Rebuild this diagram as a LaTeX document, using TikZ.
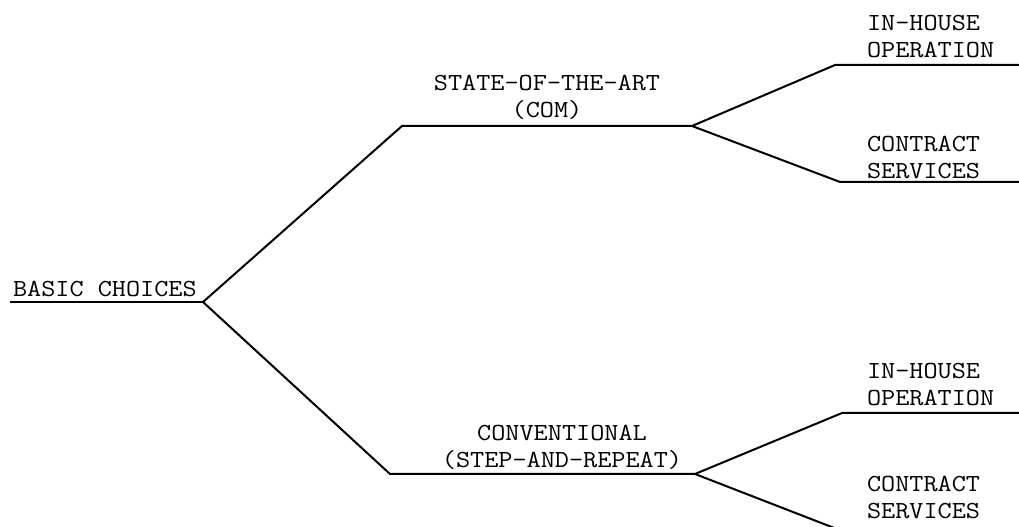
\documentclass[tikz,border=0pt]{standalone}
\usepackage{fontspec}
\setmonofont[FakeStretch=1.12]{Latin Modern Mono}
\begin{document}
\begin{tikzpicture}[line join=bevel,line width=2bp,
  choice/.style={draw=none,inner sep=0pt,font={\ttfamily\fontsize{24.5bp}{27bp}\selectfont},align=center},
  leaf/.style={choice,align=left,anchor=west}]
\useasboundingbox (0bp,0bp) rectangle (1019bp,527bp);
\clip (0bp,0bp) rectangle (1019bp,527bp);
%%
\coordinate (start) at (10bp,225bp);
\coordinate (root) at (203bp,225bp);
\coordinate (art_l) at (402bp,401bp);
\coordinate (art_r) at (692bp,401bp);
\coordinate (conv_l) at (390bp,53bp);
\coordinate (conv_r) at (695bp,53bp);
\coordinate (inhouse_a_l) at (835bp,462bp);
\coordinate (inhouse_a_r) at (1025bp,462bp);
\coordinate (contract_a_l) at (840bp,345bp);
\coordinate (contract_a_r) at (1025bp,345bp);
\coordinate (inhouse_b_l) at (842bp,114bp);
\coordinate (inhouse_b_r) at (1025bp,114bp);
\coordinate (contract_b_l) at (842bp,-4bp);
\coordinate (contract_b_r) at (1025bp,-4bp);
%
\node (basic) at (12bp,230bp) [choice,anchor=base west] {BASIC CHOICES};
\node (stateart) at (547bp,429.5bp) [choice] {STATE-OF-THE-ART\\(COM)};
\node (conv) at (562bp,79.5bp) [choice] {CONVENTIONAL\\(STEP-AND-REPEAT)};
\node (inhouse_a) at (866bp,490bp) [leaf] {IN-HOUSE\\OPERATION};
\node (contract_a) at (866bp,369.5bp) [leaf] {CONTRACT\\SERVICES};
\node (inhouse_b) at (866bp,142bp) [leaf] {IN-HOUSE\\OPERATION};
\node (contract_b) at (866bp,29.5bp) [leaf] {CONTRACT\\SERVICES};
%
\draw [black] (start) -- (root);
\draw [black] (root) -- (art_l) -- (art_r);
\draw [black] (root) -- (conv_l) -- (conv_r);
\draw [black] (art_r) -- (inhouse_a_l) -- (inhouse_a_r);
\draw [black] (art_r) -- (contract_a_l) -- (contract_a_r);
\draw [black] (conv_r) -- (inhouse_b_l) -- (inhouse_b_r);
\draw [black] (conv_r) -- (contract_b_l) -- (contract_b_r);
%
\end{tikzpicture}
\end{document}
